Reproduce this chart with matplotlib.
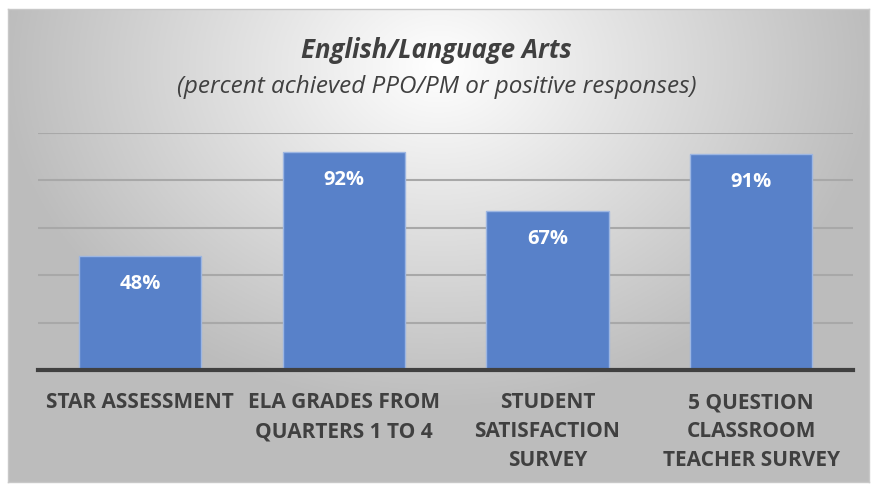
import numpy as np
import matplotlib
matplotlib.use("Agg")
import matplotlib.pyplot as plt

categories = ["STAR ASSESSMENT", "ELA GRADES FROM\nQUARTERS 1 TO 4",
              "STUDENT\nSATISFACTION\nSURVEY", "5 QUESTION\nCLASSROOM\nTEACHER SURVEY"]
values = [48, 92, 67, 91]
labels = ["48%", "92%", "67%", "91%"]

W, H = 873, 484
fig = plt.figure(figsize=(W / 100, H / 100), dpi=100)
fig.patch.set_facecolor("white")

# background panel with radial gradient
x0, y0, x1, y1 = 8, 9, 869, 482
bg = fig.add_axes([x0 / W, 1 - y1 / H, (x1 - x0) / W, (y1 - y0) / H])
yy, xx = np.mgrid[0:1:300j, 0:1:500j]
r = np.sqrt(((xx - 0.5) / 0.7) ** 2 + ((yy - 0.12) / 1.0) ** 2)
shade = np.clip(1.0 - 0.36 * r, 0.74, 1.0)
bg.imshow(np.dstack([shade] * 3), aspect="auto", extent=[0, 1, 0, 1], origin="upper")
bg.set_xticks([])
bg.set_yticks([])
for s in bg.spines.values():
    s.set_color("#c8c8c8")
    s.set_linewidth(1)

# plot area
px0, px1, py_top, py_base = 38, 853, 133, 370
ax = fig.add_axes([px0 / W, 1 - py_base / H, (px1 - px0) / W, (py_base - py_top) / H])
ax.patch.set_alpha(0)
x = np.arange(len(categories))
ax.set_xlim(-0.5, len(categories) - 0.5)
ax.set_ylim(0, 100)
for g in [20, 40, 60, 80, 100]:
    ax.axhline(g, color="#a8a8a8", lw=1.5, zorder=1)
bars = ax.bar(x, values, width=0.6, color="#5881c9", edgecolor="#9db6e2",
              linewidth=1, zorder=2)
ax.axhline(0, color="#404040", lw=3, zorder=3, clip_on=False)
for b, lab in zip(bars, labels):
    ax.annotate(lab, (b.get_x() + b.get_width() / 2, b.get_height()),
                xytext=(0, -20), textcoords="offset points",
                ha="center", va="center", color="white", fontsize=14.5,
                fontweight="bold", family="Open Sans", zorder=4)
for s in ax.spines.values():
    s.set_visible(False)
ax.set_yticks([])
ax.set_xticks(x)
ax.set_xticklabels(categories, fontsize=15, fontweight="bold", color="#404040",
                   family="Open Sans", linespacing=1.5, va="top")
ax.tick_params(axis="x", length=0, pad=16)

fig.text(0.5, 1 - 50 / H, "English/Language Arts", ha="center", va="center",
         fontsize=18.5, fontweight="bold", style="italic", color="#404040",
         family="Open Sans")
fig.text(0.5, 1 - 87 / H, "(percent achieved PPO/PM or positive responses)",
         ha="center", va="center", fontsize=17.5, style="italic", color="#404040",
         family="Open Sans")

fig.savefig("out.png", dpi=100)
